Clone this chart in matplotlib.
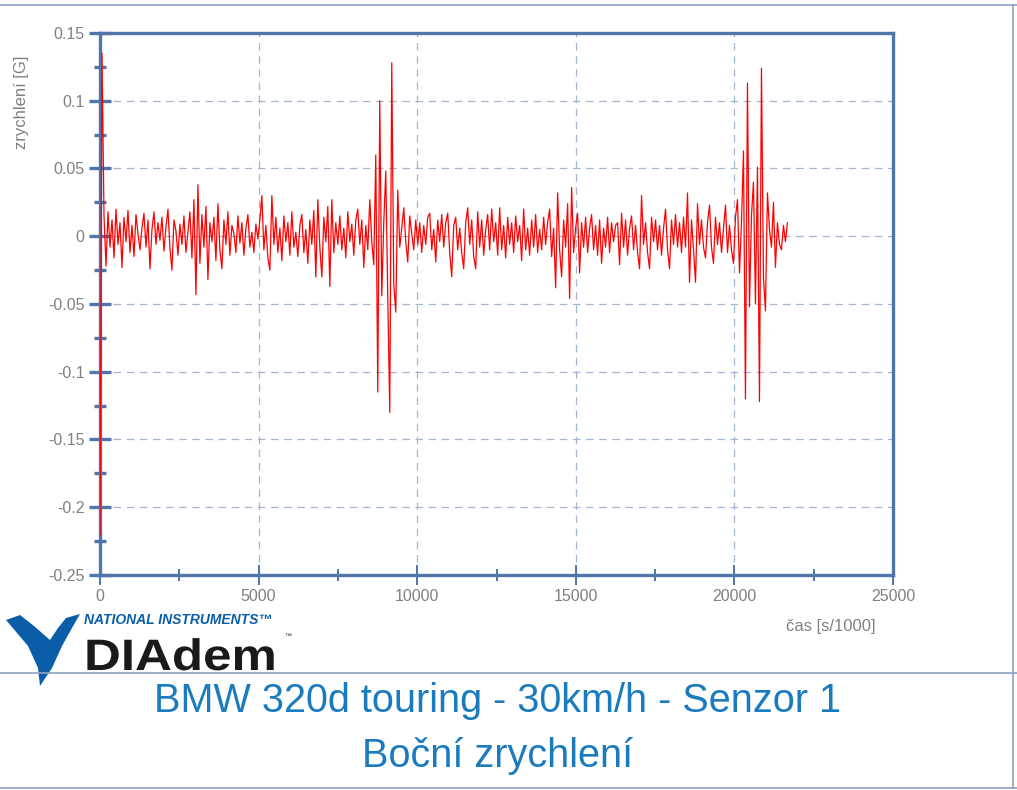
import numpy as np
import matplotlib
matplotlib.use("Agg")
import matplotlib.pyplot as plt
from matplotlib.ticker import MultipleLocator, FuncFormatter
from matplotlib.patches import Polygon, PathPatch
from matplotlib.textpath import TextPath
from matplotlib.font_manager import FontProperties
from matplotlib.transforms import Affine2D, IdentityTransform

plt.rcParams['font.family'] = ['Liberation Sans', 'DejaVu Sans']
plt.rcParams['axes.unicode_minus'] = False

# lateral acceleration in mG, one sample every 63 ms
dt = 63
acc_mg = [
    -220, 135, 15, -22, 18, -8, 12, -16, 20, -6,
    10, -23, 14, -4, 19, -12, 8, -15, 16, 2,
    -10, 6, 17, -8, 12, -24, 5, 18, -6, 10,
    -3, 14, -11, 7, 20, -9, -25, 12, 4, -14,
    9, -6, 15, -12, 3, 18, -16, 27, -43, 38,
    -20, 16, -8, 22, -32, 10, -4, 14, -18, 24,
    -10, -24, 12, -6, 18, -14, 8, 2, -12, 15,
    -5, 10, -14, 6, 16, -8, 3, -12, 9, -2,
    12, 30, -10, 8, -16, -25, 30, -6, 14, -12,
    6, -18, 15, -4, 10, -14, 18, -8, 3, -15,
    8, 16, -12, 5, -20, 12, -6, 19, -30, 27,
    -8, -30, 14, -4, 22, -37, 27, -12, 10, -6,
    15, -10, 6, -16, 18, -4, 9, -14, 12, 20,
    -6, 12, -23, 8, -10, 27, -4, -21, 60, -115,
    100, -44, 10, 48, -45, -130, 128, -35, -56, 34,
    -8, 6, 21, -4, -19, 15, 2, -10, 12, -6,
    10, -12, 8, -6, 14, 17, -10, 5, -19, 12,
    -4, 16, -8, 10, 17, -12, -30, 8, 14, -10,
    6, -12, -24, 10, 21, -6, 12, -15, -24, 18,
    -8, 12, -14, 5, 16, -10, 20, -4, 10, -14,
    21, -10, 8, -16, 14, -6, 10, -12, 15, -4,
    8, -18, 20, -10, 6, -14, 12, -8, 16, -12,
    5, -10, 14, -6, 10, 20, -15, 6, -38, 32,
    -10, -30, 12, -8, 24, -46, 36, -12, 6, 17,
    -27, 10, -8, 14, -12, 6, 16, -10, 8, -14,
    12, -20, 6, -8, 14, -12, 10, -4, 8, 10,
    -21, 17, -8, 12, -14, 6, 15, -10, 8, -12,
    -24, 30, -6, 10, -12, -24, 14, -4, 12, -10,
    8, -14, 6, 20, -10, -24, 12, -6, 16, -8,
    10, -12, 14, -8, 32, -34, 12, -10, -34, 24,
    -6, 12, -8, -16, 10, 23, -8, -20, 14, -6,
    10, -12, 6, 23, -12, 8, -10, -20, 14, 27,
    -27, 10, 63, -120, 113, -52, 15, 40, -50, 51,
    -122, 124, -30, -55, 32, 5, -8, 25, -23, 10,
    -6, -10, 8, -4, 10,
]

title1 = "BMW 320d touring - 30km/h - Senzor 1"
title2 = "Boční zrychlení"
xlabel = "čas [s/1000]"
ylabel = "zrychlení [G]"

acc = np.array(acc_mg) / 1000.0
t = np.arange(len(acc)) * dt

W, H = 1017, 790
fig = plt.figure(figsize=(W / 100, H / 100), dpi=100)
spine_c = '#5075aa'
grid_c = '#a3b5d0'
text_c = '#808080'
blue = '#1b7bbf'

ax = fig.add_axes([100 / W, 1 - 575 / H, 793 / W, 542 / H])
ax.plot(t, acc, color='#ff0000', lw=0.9, zorder=3)
ax.set_xlim(0, 25000)
ax.set_ylim(-0.25, 0.15)

ax.xaxis.set_major_locator(MultipleLocator(5000))
ax.xaxis.set_minor_locator(MultipleLocator(2500))
ax.yaxis.set_major_locator(MultipleLocator(0.05))
ax.yaxis.set_minor_locator(MultipleLocator(0.025))
ax.yaxis.set_major_formatter(FuncFormatter(lambda v, p: '%g' % round(v, 3)))

ax.grid(True, which='major', color=grid_c, ls=(0, (6, 4.5)), lw=0.9)
for s in ax.spines.values():
    s.set_color(spine_c)
    s.set_linewidth(2.4)

ax.tick_params(axis='y', which='major', direction='inout', length=16, width=2.4,
               color=spine_c, labelcolor=text_c, labelsize=11.5, pad=3)
ax.tick_params(axis='y', which='minor', direction='inout', length=9, width=2.4,
               color=spine_c)
ax.tick_params(axis='x', which='major', direction='inout', length=14, width=1.4,
               color=spine_c, labelcolor=text_c, labelsize=11.5, pad=3)
ax.tick_params(axis='x', which='minor', direction='inout', length=8, width=1.4,
               color=spine_c)

fig.text(22 / W, 1 - 102 / H, ylabel, rotation=90, ha='center', va='center',
         color=text_c, fontsize=12)
fig.text(875 / W, 1 - 626 / H, xlabel, ha='right', va='center',
         color=text_c, fontsize=12)

fig.text(498 / W, 1 - 701 / H, title1, ha='center', va='center',
         color=blue, fontsize=28.5)
fig.text(498 / W, 1 - 756 / H, title2, ha='center', va='center',
         color=blue, fontsize=28.5)

# frame lines
for yy in (5, 673, 788):
    fig.add_artist(plt.Line2D([0, 1], [1 - yy / H] * 2, color='#8ea2c4', lw=1.2))
fig.add_artist(plt.Line2D([1013 / W] * 2, [1 - 5 / H, 1 - 788 / H], color='#8ea2c4', lw=1.2))

# NI DIAdem logo
eagle = [(6, 620), (20, 615), (34, 626), (50, 640), (58, 628), (66, 618), (80, 614),
         (72, 628), (62, 646), (52, 668), (40, 686), (38, 668), (28, 646)]
fig.add_artist(Polygon([(x / W, 1 - y / H) for x, y in eagle], closed=True,
                       facecolor='#0a5ea8', edgecolor='none'))
fig.text(84 / W, 1 - 620 / H, "NATIONAL INSTRUMENTS\u2122", ha='left', va='center',
         color='#0a5ea8', fontsize=10, fontweight='bold', fontstyle='italic')
logo_path = TextPath((0, 0), "DIAdem", size=44,
                     prop=FontProperties(family='Liberation Sans', weight='bold'))
logo_tr = Affine2D().scale(1.16, 1.0).translate(84, H - 670)
fig.add_artist(PathPatch(logo_path, transform=logo_tr + IdentityTransform(),
                         facecolor='#1a1a1a', edgecolor='none'))
fig.text(284 / W, 1 - 637 / H, "\u2122", ha='left', va='center',
         color='#1a1a1a', fontsize=5)

fig.savefig('out.png', dpi=100)
